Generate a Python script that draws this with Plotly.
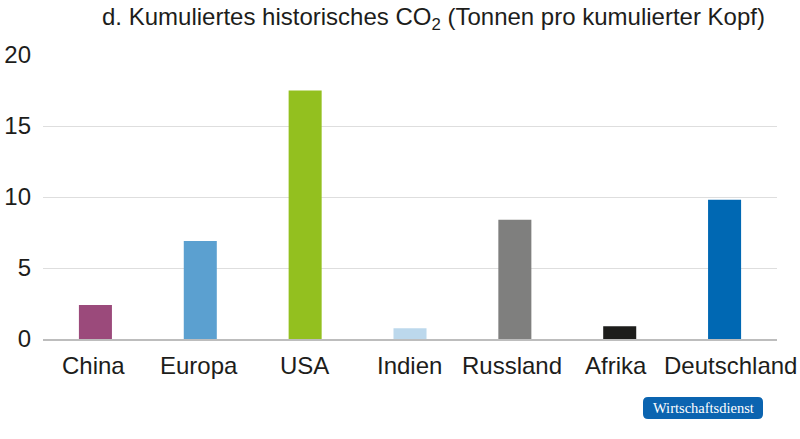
import plotly.graph_objects as go

categories = ["China", "Europa", "USA", "Indien", "Russland", "Afrika", "Deutschland"]
values = [2.4, 6.9, 17.5, 0.75, 8.4, 0.9, 9.8]
colors = ["#9b4a7b", "#5ba0d0", "#93c01f", "#bcd8ec", "#7f7f7e", "#1d1d1b", "#0068b3"]
y_ticks = [0, 5, 10, 15, 20]

# small horizontal nudges of category labels (pixels), as in the original
label_shift = [-2, -1, -1, -1, -3, -4, 6]

W, H = 800, 439
ml, mr, mt, mb = 43, 23, 55, 100

fig = go.Figure(go.Bar(x=categories, y=values, marker=dict(color=colors, line=dict(width=0)),
                       width=0.315))

fig.update_layout(
    width=W, height=H,
    margin=dict(l=ml, r=mr, t=mt, b=mb, autoexpand=False),
    plot_bgcolor="white", paper_bgcolor="white",
    font=dict(family="Liberation Sans, Arial, sans-serif", color="#1d1d1b", size=24),
    showlegend=False,
)
fig.update_xaxes(showgrid=False, showline=True, linecolor="#bdbdbd", linewidth=2,
                 showticklabels=False, automargin=False,
                 range=[-0.5, len(categories) - 0.5])
fig.update_yaxes(range=[0, 20], tickvals=y_ticks, showgrid=True, gridcolor="#dedede",
                 gridwidth=1, zeroline=False, tickfont=dict(size=24), ticklabelstandoff=11,
                 automargin=False)

for cat, dx in zip(categories, label_shift):
    fig.add_annotation(text=cat, x=cat, xref="x", yref="paper", y=0, yanchor="middle",
                       xanchor="center", yshift=-26, xshift=dx, showarrow=False,
                       font=dict(size=24))

pw, ph = W - ml - mr, H - mt - mb
def px(x): return (x - ml) / pw
def py(y): return 1 - (y - mt) / ph

fig.add_annotation(text="d. Kumuliertes historisches CO<sub>2</sub> (Tonnen pro kumulierter Kopf)",
                   xref="paper", yref="paper", x=px(433), y=py(19),
                   xanchor="center", yanchor="middle",
                   showarrow=False, font=dict(size=24))

# Logo badge with rounded corners
x0, x1, y0, y1, r = 643, 763, 397, 419, 5
path = (f"M {px(x0 + r)} {py(y0)} L {px(x1 - r)} {py(y0)} "
        f"Q {px(x1)} {py(y0)} {px(x1)} {py(y0 + r)} L {px(x1)} {py(y1 - r)} "
        f"Q {px(x1)} {py(y1)} {px(x1 - r)} {py(y1)} L {px(x0 + r)} {py(y1)} "
        f"Q {px(x0)} {py(y1)} {px(x0)} {py(y1 - r)} L {px(x0)} {py(y0 + r)} "
        f"Q {px(x0)} {py(y0)} {px(x0 + r)} {py(y0)} Z")
fig.add_shape(type="path", path=path, xref="paper", yref="paper",
              fillcolor="#0b64b0", line=dict(width=0), layer="above")
fig.add_annotation(text="Wirtschaftsdienst", xref="paper", yref="paper",
                   x=px((x0 + x1) / 2), y=py((y0 + y1) / 2), xanchor="center", yanchor="middle",
                   showarrow=False, font=dict(family="Liberation Serif, DejaVu Serif, serif",
                                              size=14.5, color="white"))

fig.write_html("out.html", config={"displayModeBar": False},
               post_script="document.body.style.margin='0';document.body.style.overflow='hidden';")
